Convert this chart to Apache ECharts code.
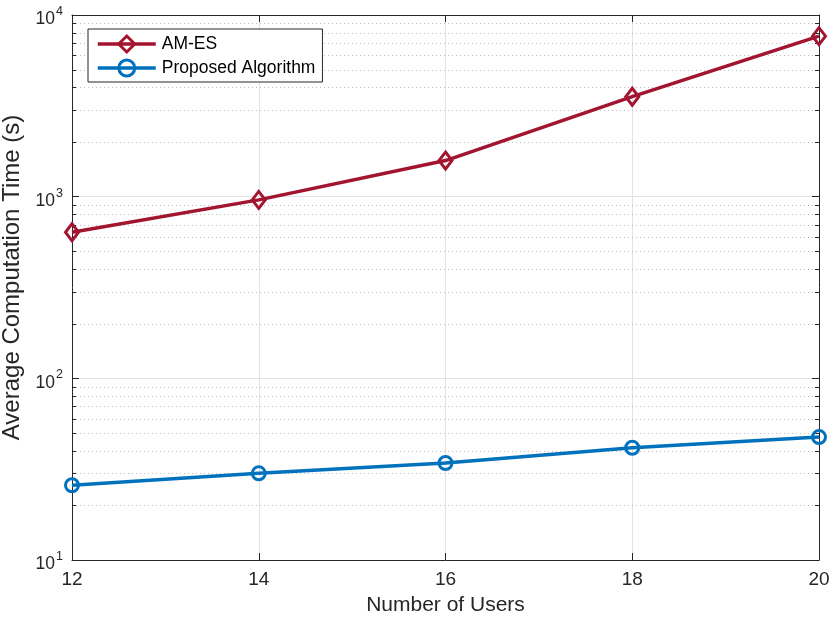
<!DOCTYPE html>
<html><head><meta charset="utf-8">
<script src="https://cdn.jsdelivr.net/npm/echarts@6/dist/echarts.min.js"></script>
<style>html,body{margin:0;padding:0;background:#fff}#c{width:830px;height:623px}</style>
</head><body><div id="c"></div>
<script>
const users = [12, 14, 16, 18, 20];
const amES = [637, 960, 1580, 3550, 7650];
const proposed = [25.8, 30.0, 34.2, 41.5, 47.5];
const xTicks = [12, 14, 16, 18, 20];
const yMin = 10, yMax = 10000;

const minorVals = [];
for (let d = 10; d < yMax; d *= 10) for (let k = 2; k <= 9; k++) minorVals.push([12, k * d]);

const txt = '#262626';
const font = 'Liberation Sans, Arial, Helvetica, sans-serif';
const chart = echarts.init(document.getElementById('c'));
chart.setOption({
  backgroundColor: '#fff',
  textStyle: { fontFamily: font, color: txt },
  animation: false,
  grid: { left: 72, right: 11, top: 15, bottom: 63, containLabel: false, outerBoundsMode: 'none' },
  legend: {
    left: 88, top: 29, orient: 'vertical',
    backgroundColor: '#fff', borderColor: txt, borderWidth: 1,
    padding: [5, 7, 4, 8], itemGap: 4, itemWidth: 58, itemHeight: 20,
    lineStyle: { width: 3.5 },
    itemStyle: { borderWidth: 3 },
    textStyle: { fontSize: 17.5, lineHeight: 20, color: '#000', fontFamily: font, padding: [0, 0, 0, 1] },
    data: ['AM-ES', 'Proposed Algorithm']
  },
  xAxis: [{
    type: 'value', min: 12, max: 20, interval: 2,
    name: 'Number of Users', nameLocation: 'middle', nameGap: 35,
    nameTextStyle: { fontSize: 21, color: txt },
    axisLine: { lineStyle: { color: txt } },
    axisTick: { inside: true, length: 7, lineStyle: { color: txt } },
    axisLabel: { fontSize: 19, color: txt, margin: 10 },
    splitLine: { show: true, lineStyle: { color: '#e3e3e3' } }
  }, {
    type: 'value', min: 12, max: 20, interval: 2, position: 'top',
    axisLine: { show: true, lineStyle: { color: txt } },
    axisTick: { inside: true, length: 7, lineStyle: { color: txt } },
    axisLabel: { show: false }, splitLine: { show: false }
  }],
  yAxis: [{
    type: 'log', logBase: 10, min: yMin, max: yMax,
    name: 'Average Computation Time (s)', nameLocation: 'middle', nameGap: 43,
    nameTextStyle: { fontSize: 24, color: txt, padding: [0, 0, 0, 20] },
    axisLine: { show: true, lineStyle: { color: txt } },
    axisTick: { show: true, inside: true, length: 7, lineStyle: { color: txt } },
    axisLabel: {
      margin: 9,
      formatter: v => '{b|10}{s|' + Math.round(Math.log10(v)) + '}',
      rich: {
        b: { fontSize: 17.5, color: txt, fontFamily: font, padding: [9, 0, 0, 0] },
        s: { fontSize: 12.5, color: txt, fontFamily: font, padding: [0, 0, 7, 1] }
      }
    },
    splitLine: { show: true, lineStyle: { color: '#e3e3e3' } }
  }, {
    type: 'log', logBase: 10, min: yMin, max: yMax, position: 'right',
    axisLine: { show: true, lineStyle: { color: txt } },
    axisTick: { show: true, inside: true, length: 7, lineStyle: { color: txt } },
    axisLabel: { show: false }, splitLine: { show: false }
  }],
  series: [{
    type: 'custom', silent: true, z: 1,
    data: minorVals, encode: { x: 0, y: 1 },
    renderItem: (params, api) => {
      const v = api.value(1);
      const p0 = api.coord([12, v]);
      const p1 = api.coord([20, v]);
      const y = Math.round(p0[1]) + 0.5;
      return { type: 'group', children: [
        { type: 'line', shape: { x1: p0[0], y1: y, x2: p1[0], y2: y },
          style: { stroke: '#bdbdbd', lineWidth: 1, lineDash: [1, 3] } },
        { type: 'line', shape: { x1: p0[0], y1: y, x2: p0[0] + 4, y2: y },
          style: { stroke: txt, lineWidth: 1 } },
        { type: 'line', shape: { x1: p1[0] - 4, y1: y, x2: p1[0], y2: y },
          style: { stroke: txt, lineWidth: 1 } }
      ] };
    }
  }, {
    name: 'AM-ES', type: 'line', z: 3,
    data: users.map((u, i) => [u, amES[i]]),
    symbol: 'diamond', symbolSize: [13, 17],
    lineStyle: { color: '#A2142F', width: 3.5 },
    itemStyle: { color: 'rgba(255,255,255,0)', borderColor: '#A2142F', borderWidth: 3 }
  }, {
    name: 'Proposed Algorithm', type: 'line', z: 3,
    data: users.map((u, i) => [u, proposed[i]]),
    symbol: 'circle', symbolSize: 13,
    lineStyle: { color: '#0072BD', width: 3.5 },
    itemStyle: { color: 'rgba(255,255,255,0)', borderColor: '#0072BD', borderWidth: 3 }
  }]
});
</script></body></html>
